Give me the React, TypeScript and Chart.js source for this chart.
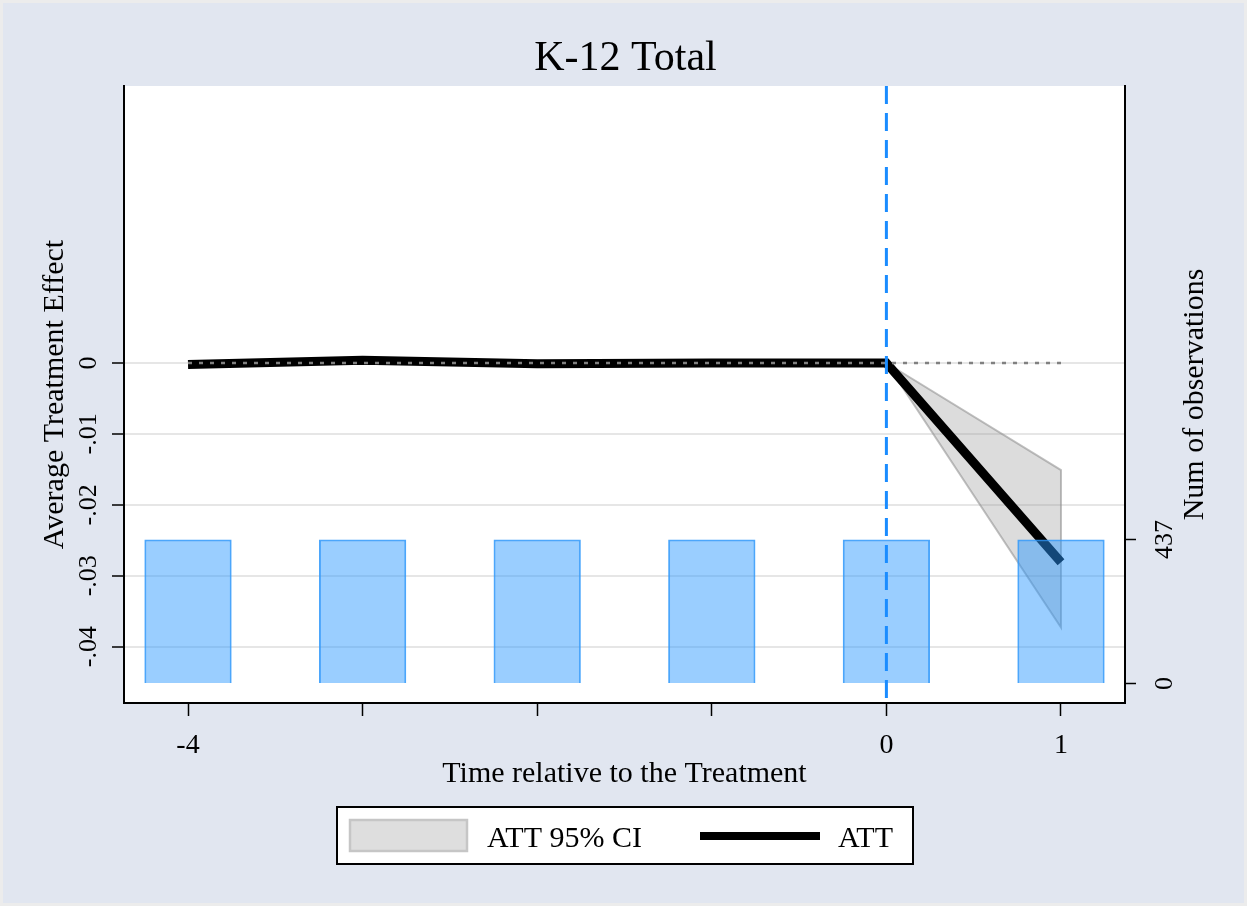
import React, { useEffect, useRef } from "react";
import { Chart, registerables } from "chart.js";

Chart.register(...registerables);

// ---- data ----
const periods = [-4, -3, -2, -1, 0, 1];
const attValues = [-0.0002, 0.0004, -0.0001, 0.0, 0.0, -0.0281];
const ciPeriods = [0, 1];
const ciUpper = [0.0, -0.0151];
const ciLower = [0.0, -0.0373];
const obsCounts = [437, 437, 437, 437, 437, 437];
const zeroLineX = [-4, 1];
const zeroLineY = [0, 0];
const treatmentTime = 0;
const xLabeledTicks = [-4, 0, 1];
const yTicks = [-0.04, -0.03, -0.02, -0.01, 0];
const yTickLabels = ["-.04", "-.03", "-.02", "-.01", "0"];
const obsTicks = [0, 437];
const obsTickLabels = ["0", "437"];

const TITLE = "K-12 Total";
const X_TITLE = "Time relative to the Treatment";
const Y_TITLE = "Average Treatment Effect";
const Y2_TITLE = "Num of observations";
const LEGEND_CI = "ATT 95% CI";
const LEGEND_ATT = "ATT";

const FONT = '"Liberation Serif", "DejaVu Serif", serif';
const W = 1247;
const H = 906;

function rotatedText(ctx: CanvasRenderingContext2D, text: string, x: number, y: number, size: number) {
  ctx.save();
  ctx.translate(x, y);
  ctx.rotate(-Math.PI / 2);
  ctx.font = `${size}px ${FONT}`;
  ctx.fillStyle = "#000";
  ctx.textAlign = "center";
  ctx.textBaseline = "alphabetic";
  ctx.fillText(text, 0, 0);
  ctx.restore();
}

const decorPlugin = {
  id: "stataDecor",
  beforeDraw(chart: any) {
    const ctx = chart.ctx as CanvasRenderingContext2D;
    const ca = chart.chartArea;
    ctx.save();
    ctx.fillStyle = "#e1e6f0";
    ctx.fillRect(0, 0, W, H);
    ctx.strokeStyle = "#ececec";
    ctx.lineWidth = 3;
    ctx.strokeRect(1.5, 1.5, W - 3, H - 3);
    ctx.fillStyle = "#ffffff";
    ctx.fillRect(ca.left, ca.top, ca.right - ca.left, ca.bottom - ca.top);
    ctx.restore();
  },
  afterDatasetsDraw(chart: any) {
    const ctx = chart.ctx as CanvasRenderingContext2D;
    const ca = chart.chartArea;
    const xs = chart.scales.x;
    const px = xs.getPixelForValue(treatmentTime);
    ctx.save();
    ctx.strokeStyle = "#1a8cff";
    ctx.lineWidth = 3;
    ctx.setLineDash([18, 9]);
    ctx.beginPath();
    ctx.moveTo(px, ca.top);
    ctx.lineTo(px, ca.bottom);
    ctx.stroke();
    ctx.restore();
  },
  afterDraw(chart: any) {
    const ctx = chart.ctx as CanvasRenderingContext2D;
    const ca = chart.chartArea;
    const ys = chart.scales.y;
    const y2 = chart.scales.y2;
    const midY = (ca.top + ca.bottom) / 2;
    const midX = (ca.left + ca.right) / 2;

    // title
    ctx.save();
    ctx.fillStyle = "#000";
    ctx.font = `42px ${FONT}`;
    ctx.textAlign = "center";
    ctx.textBaseline = "alphabetic";
    ctx.fillText(TITLE, midX + 1, 70);
    // x title
    ctx.font = `30px ${FONT}`;
    ctx.fillText(X_TITLE, midX, 782);
    ctx.restore();

    // left tick labels
    yTicks.forEach((v, i) => {
      rotatedText(ctx, yTickLabels[i], ca.left - 28, ys.getPixelForValue(v), 26);
    });
    rotatedText(ctx, Y_TITLE, ca.left - 61, midY, 30);

    // right tick labels
    obsTicks.forEach((v, i) => {
      rotatedText(ctx, obsTickLabels[i], ca.right + 47, y2.getPixelForValue(v), 26);
    });
    rotatedText(ctx, Y2_TITLE, ca.right + 78, midY, 30);

    // legend
    ctx.save();
    const lx = 337, ly = 807, lw = 576, lh = 57;
    ctx.fillStyle = "#ffffff";
    ctx.fillRect(lx, ly, lw, lh);
    ctx.strokeStyle = "#000";
    ctx.lineWidth = 2;
    ctx.strokeRect(lx, ly, lw, lh);
    ctx.fillStyle = "#dedede";
    ctx.fillRect(350, 820, 117, 31);
    ctx.strokeStyle = "#c6c6c6";
    ctx.lineWidth = 2.5;
    ctx.strokeRect(350, 820, 117, 31);
    ctx.strokeStyle = "#000";
    ctx.lineWidth = 8;
    ctx.beginPath();
    ctx.moveTo(700, 836);
    ctx.lineTo(820, 836);
    ctx.stroke();
    ctx.fillStyle = "#000";
    ctx.font = `30px ${FONT}`;
    ctx.textAlign = "left";
    ctx.textBaseline = "alphabetic";
    ctx.fillText(LEGEND_CI, 487, 847);
    ctx.fillText(LEGEND_ATT, 838, 847);
    ctx.restore();
  },
};

export default function App() {
  const ref = useRef<HTMLCanvasElement | null>(null);

  useEffect(() => {
    if (!ref.current) return;
    const ciShape = [
      ...ciPeriods.map((x, i) => ({ x, y: ciUpper[i] })),
      ...ciPeriods
        .map((x, i) => ({ x, y: ciLower[i] }))
        .reverse(),
    ];
    const chart = new Chart(ref.current, {
      type: "bar",
      data: {
        datasets: [
          {
            type: "bar",
            label: "Num of observations",
            data: periods.map((x, i) => ({ x, y: obsCounts[i] })),
            yAxisID: "y2",
            xAxisID: "x",
            backgroundColor: "rgba(40,150,255,0.47)",
            borderColor: "rgba(45,150,250,0.85)",
            borderWidth: 2,
            barPercentage: 0.5,
            categoryPercentage: 1,
            order: 0,
          } as any,
          {
            type: "line",
            label: "zero",
            data: zeroLineX.map((x, i) => ({ x, y: zeroLineY[i] })),
            yAxisID: "y",
            borderColor: "#808080",
            borderWidth: 2.5,
            borderDash: [4, 7],
            pointRadius: 0,
            fill: false,
            order: 1,
          },
          {
            type: "line",
            label: LEGEND_ATT,
            data: periods.map((x, i) => ({ x, y: attValues[i] })),
            yAxisID: "y",
            borderColor: "#000000",
            borderWidth: 9,
            borderCapStyle: "butt",
            borderJoinStyle: "miter",
            pointRadius: 0,
            tension: 0,
            fill: false,
            order: 2,
          },
          {
            type: "line",
            label: LEGEND_CI,
            data: ciShape,
            yAxisID: "y",
            borderColor: "rgba(140,140,140,0.55)",
            borderWidth: 2,
            backgroundColor: "rgba(150,150,150,0.33)",
            pointRadius: 0,
            tension: 0,
            fill: "shape",
            order: 3,
          } as any,
        ],
      },
      options: {
        responsive: false,
        animation: false,
        devicePixelRatio: 1,
        layout: { padding: { top: 86, left: 0, right: 0, bottom: 0 } },
        plugins: {
          legend: { display: false },
          title: { display: false },
          tooltip: { enabled: false },
        },
        scales: {
          x: {
            type: "linear",
            position: "bottom",
            min: -4.3666,
            max: 1.3666,
            offset: false,
            afterBuildTicks: (s: any) => {
              s.ticks = periods.map((v) => ({ value: v }));
            },
            afterFit: (s: any) => {
              s.height = H - 703;
            },
            grid: {
              drawOnChartArea: false,
              drawTicks: true,
              tickLength: 13,
              tickColor: "#000",
              tickWidth: 1.5,
              offset: false,
            },
            border: { display: true, color: "#000", width: 2 },
            ticks: {
              autoSkip: false,
              maxRotation: 0,
              minRotation: 0,
              padding: 13,
              color: "#000",
              font: { family: FONT, size: 28 },
              callback: (v: any) => (xLabeledTicks.includes(Number(v)) ? String(v) : ""),
            },
          } as any,
          y: {
            type: "linear",
            position: "left",
            min: -0.04795,
            max: 0.03907,
            afterBuildTicks: (s: any) => {
              s.ticks = yTicks.map((v) => ({ value: v }));
            },
            afterFit: (s: any) => {
              s.width = 124;
            },
            grid: {
              drawOnChartArea: true,
              color: "#e6e6e6",
              lineWidth: 2,
              drawTicks: true,
              tickLength: 12,
              tickColor: "#000",
              tickWidth: 1.5,
            },
            border: { display: true, color: "#000", width: 2 },
            ticks: { display: false },
          } as any,
          y2: {
            type: "linear",
            position: "right",
            min: -59.2,
            max: 1813,
            afterBuildTicks: (s: any) => {
              s.ticks = obsTicks.map((v) => ({ value: v }));
            },
            afterFit: (s: any) => {
              s.width = W - 1125;
            },
            grid: {
              drawOnChartArea: false,
              drawTicks: true,
              tickLength: 11,
              tickColor: "#000",
              tickWidth: 1.5,
            },
            border: { display: true, color: "#000", width: 2 },
            ticks: { display: false },
          } as any,
        },
      },
      plugins: [decorPlugin as any],
    });
    return () => chart.destroy();
  }, []);

  return (
    <div style={{ position: "absolute", left: 0, top: 0, width: W, height: H }}>
      <canvas ref={ref} width={W} height={H} style={{ display: "block" }} />
    </div>
  );
}
